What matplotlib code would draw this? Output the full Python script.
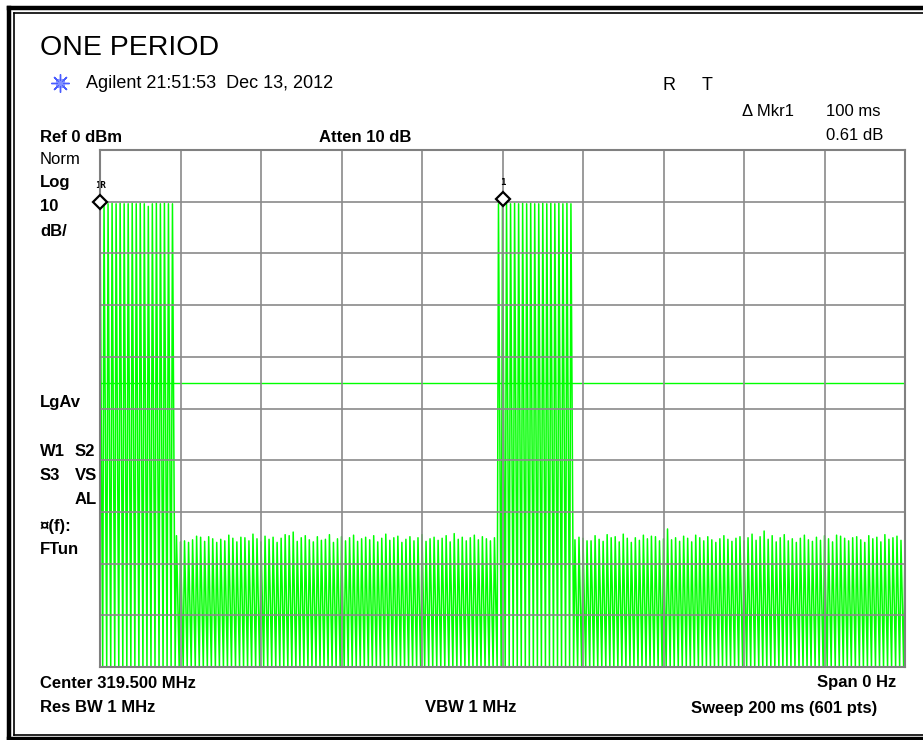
import numpy as np
import matplotlib.pyplot as plt
from matplotlib.lines import Line2D

plt.rcParams['font.family'] = ['Liberation Sans', 'DejaVu Sans']

# ---- trace data (dBm), one spike every 1 ms, 601 points over 200 ms ----
# peak value of each spike
pulse1_peaks = [-10.4, -10.3, -10.4, -10.3, -10.4, -10.3, -10.4, -10.4, -10.3, -10.4,
                -10.3, -10.4, -10.9, -10.4, -10.3, -10.4, -10.3, -10.4, -10.4]
noise1_peaks = [-74.6, -75.8, -75.6, -75.9, -75.4, -74.7, -74.9, -75.7, -74.8, -75.2,
                -75.9, -75.3, -75.6, -74.5, -75.1, -75.8, -74.9, -75.0, -75.6, -74.3,
                -75.2, -75.8, -74.7, -75.3, -74.9, -75.9, -75.1, -74.4, -74.6, -73.9,
                -75.7, -75.0, -74.6, -75.4, -75.8, -74.8, -75.5, -75.3, -74.4, -75.9,
                -75.2, -74.8, -75.6, -75.0, -74.5, -75.7, -75.2, -74.9, -75.4, -74.6,
                -75.8, -75.1, -74.3, -75.5, -75.0, -74.7, -75.9, -75.3, -74.8, -75.6,
                -75.0, -74.4, -75.7, -75.2, -74.9, -75.5, -75.1, -74.6, -75.8, -74.2,
                -75.3, -74.9, -75.6, -75.0, -74.5, -75.4, -74.8, -75.2, -75.6, -75.0]
pulse2_peaks = [-10.4, -9.8, -10.3, -10.4, -10.3, -10.4, -10.3, -10.4, -10.3, -10.4,
                -10.4, -10.3, -10.4, -10.3, -10.4, -10.3, -10.4, -10.3, -10.4]
noise2_peaks = [-75.4, -74.9, -75.1, -75.6, -75.6, -74.6, -75.3, -75.7, -74.4, -75.0,
                -74.8, -75.8, -74.3, -75.1, -75.9, -75.0, -75.5, -74.5, -75.2, -74.7,
                -74.8, -75.6, -75.2, -73.3, -75.4, -75.0, -75.7, -74.7, -75.1, -75.8,
                -74.5, -75.0, -75.6, -74.8, -75.4, -75.9, -75.2, -74.6, -75.3, -75.7,
                -75.1, -74.8, -75.6, -75.0, -74.3, -75.5, -74.8, -73.7, -75.3, -74.6,
                -75.8, -75.0, -74.4, -75.6, -75.2, -75.9, -75.1, -74.5, -75.4, -75.7,
                -74.9, -75.5, -74.6, -75.2, -75.8, -74.5, -74.7, -75.1, -75.6, -75.0,
                -74.8, -75.4, -75.9, -74.6, -75.2, -74.9, -75.8, -74.4, -75.3, -75.0,
                -74.7, -75.5, -75.1]

# level each spike falls back to before dropping to the floor
pulse1_mids = [-55.3, -55.4, -55.3, -55.3, -55.4, -55.3, -55.3, -55.4, -55.3, -55.3,
               -55.4, -55.3, -55.3, -55.4, -55.3, -55.3, -55.4, -55.3, -55.3]
noise1_mids = [-87.2, -87.6, -87.4, -87.9, -87.5, -87.8, -87.3, -87.7, -88.0, -87.5,
               -87.6, -87.9, -87.4, -87.7, -87.2, -87.8, -87.6, -87.3, -87.9, -87.5,
               -87.7, -87.4, -88.1, -87.6, -87.3, -87.8, -87.5, -87.9, -87.2, -87.7,
               -87.6, -87.4, -87.8, -87.5, -88.0, -87.3, -87.7, -87.6, -87.9, -87.4,
               -87.8, -87.5, -87.2, -87.7, -87.9, -87.6, -87.3, -87.8, -87.5, -88.0,
               -87.4, -87.7, -87.6, -87.9, -87.3, -87.8, -87.5, -87.2, -87.7, -87.6,
               -87.9, -87.4, -87.8, -87.5, -87.6, -87.3, -87.9, -87.7, -87.4, -87.8,
               -87.5, -87.6, -88.0, -87.3, -87.7, -87.5, -87.8, -87.4, -87.6, -87.5]
pulse2_mids = [-55.3, -55.4, -55.3, -55.3, -55.4, -55.3, -55.3, -55.4, -55.3, -55.3,
               -55.4, -55.3, -55.3, -55.4, -55.3, -55.3, -55.4, -55.3, -55.3]
noise2_mids = [-87.5, -87.3, -87.8, -87.6, -87.2, -87.9, -87.5, -87.7, -87.4, -87.8,
               -87.6, -87.3, -87.9, -87.5, -87.7, -87.2, -87.8, -87.6, -87.4, -88.0,
               -87.5, -87.7, -87.3, -87.6, -87.9, -87.4, -87.8, -87.5, -87.2, -87.7,
               -87.6, -87.9, -87.4, -87.8, -87.3, -87.6, -87.7, -88.0, -87.5, -87.4,
               -87.8, -87.6, -87.3, -87.9, -87.5, -87.7, -87.4, -87.8, -87.6, -87.2,
               -87.9, -87.5, -87.7, -87.3, -87.8, -87.6, -87.4, -88.0, -87.5, -87.7,
               -87.3, -87.8, -87.6, -87.9, -87.4, -87.5, -87.7, -87.2, -87.8, -87.6,
               -87.9, -87.4, -87.5, -87.8, -87.3, -87.7, -87.6, -87.9, -87.4, -87.5,
               -87.8, -87.6]
floor_level = -100.0
display_line = -45.0
marker_times = [0, 100]  # ms
marker_names = ['1R', '1']
sweep_ms = 200
n_points = 601

# ---- build the 601-point trace: peak, mid, floor, peak, ... ----
peaks = pulse1_peaks + noise1_peaks + pulse2_peaks + noise2_peaks
mids = pulse1_mids + noise1_mids + pulse2_mids + noise2_mids
t = np.linspace(0, sweep_ms, n_points)
trace = np.full(n_points, floor_level)
trace[0::3] = peaks
trace[1::3] = mids

# ---- figure ----
W, H = 923, 740
fig = plt.figure(figsize=(W / 100, H / 100), dpi=100)


def fx(x):
    return x / W


def fy(y):
    return 1 - y / H


ax = fig.add_axes([fx(100), fy(667), fx(805), 517 / H])
ax.plot(t, trace, color='#00ff00', lw=1.1, zorder=2)
ax.axhline(display_line, color='#00ff00', lw=1.0, zorder=2)
ax.set_xlim(0, sweep_ms)
ax.set_ylim(-100, 0)
ax.set_xticks(np.linspace(0, sweep_ms, 11))
ax.set_yticks(np.linspace(-100, 0, 11))
ax.grid(True, color='#8a8a8a', lw=1.2, zorder=3)
ax.set_axisbelow(False)
ax.tick_params(length=0, labelbottom=False, labelleft=False)
for s in ax.spines.values():
    s.set_color('#808080')
    s.set_linewidth(1.5)
    s.set_zorder(4)

# markers
for mt, name in zip(marker_times, marker_names):
    mv = peaks[int(mt)]
    ax.plot(mt, mv + 0.4, marker='D', ms=7, mfc='white', mec='black', mew=1.6,
            zorder=6, clip_on=False)
    ax.annotate(name, (mt, mv), xytext=(0, 10),
                textcoords='offset points', ha='center', va='bottom',
                fontsize=6.5, fontweight='bold', family='DejaVu Sans Mono')

# ---- text ----
fig.text(fx(40), fy(48), 'ONE PERIOD', fontsize=20.5, va='center')
fig.text(fx(86), fy(83), 'Agilent 21:51:53  Dec 13, 2012', fontsize=13, va='center')
logo = fig.add_axes([fx(50), fy(93), fx(20), 20 / H])
logo.axis('off')
logo.plot([0], [0], marker=(8, 2, 0), ms=13, color='#4a5cff', mew=1.0, ls='none')
logo.plot([0], [0], marker=(8, 2, 22.5), ms=7, color='#8090ff', mew=0.8, ls='none')
logo.set_xlim(-1, 1)
logo.set_ylim(-1, 1)

fig.text(fx(663), fy(86), 'R', fontsize=13, va='center')
fig.text(fx(702), fy(86), 'T', fontsize=13, va='center')
fig.text(fx(742), fy(112), '\u0394 Mkr1', fontsize=12, va='center')
fig.text(fx(881), fy(112), '100 ms', fontsize=12, va='center', ha='right')
fig.text(fx(883), fy(136), '0.61 dB', fontsize=12, va='center', ha='right')

fig.text(fx(40), fy(137), 'Ref 0 dBm', fontsize=12, fontweight='bold', va='center')
fig.text(fx(319), fy(137), 'Atten 10 dB', fontsize=12, fontweight='bold', va='center')

left_labels = [
    (40, 159, 'Norm', 'normal'),
    (40, 183, 'Log', 'bold'),
    (40, 207, '10', 'bold'),
    (40, 231, 'dB/', 'bold'),
    (40, 403, 'LgAv', 'bold'),
    (40, 452, 'W1', 'bold'),
    (75, 452, 'S2', 'bold'),
    (40, 476, 'S3', 'bold'),
    (75, 476, 'VS', 'bold'),
    (75, 500, 'AL', 'bold'),
    (40, 526, '\u00a4(f):', 'bold'),
    (40, 549, 'FTun', 'bold'),
]
for x, y, s, w in left_labels:
    fig.text(fx(x), fy(y), s, fontsize=12, fontweight=w, va='center')

bottom_kw = dict(fontsize=12, fontweight='bold', va='center')
fig.text(fx(40), fy(683), 'Center 319.500 MHz', **bottom_kw)
fig.text(fx(896), fy(683), 'Span 0 Hz', ha='right', **bottom_kw)
fig.text(fx(40), fy(708), 'Res BW 1 MHz', **bottom_kw)
fig.text(fx(425), fy(708), 'VBW 1 MHz', **bottom_kw)
fig.text(fx(877), fy(708), 'Sweep 200 ms (601 pts)', ha='right', **bottom_kw)

# ---- double frame around the screen (open on the right, as in the capture) ----
frame = [
    ([9, 9], [8, 740], 3.2),      # thick left
    ([9, 923], [8, 8], 3.2),      # thick top
    ([9, 923], [739, 739], 3.2),  # thick bottom
    ([14, 14], [13, 735], 1.2),   # thin left
    ([14, 923], [13, 13], 1.2),   # thin top
    ([14, 923], [734.5, 734.5], 1.2),  # thin bottom
]
for xs, ys, lw in frame:
    fig.add_artist(Line2D([fx(v) for v in xs], [fy(v) for v in ys],
                          transform=fig.transFigure, color='black', lw=lw))

fig.savefig('out.png', dpi=100)
plt.close(fig)
